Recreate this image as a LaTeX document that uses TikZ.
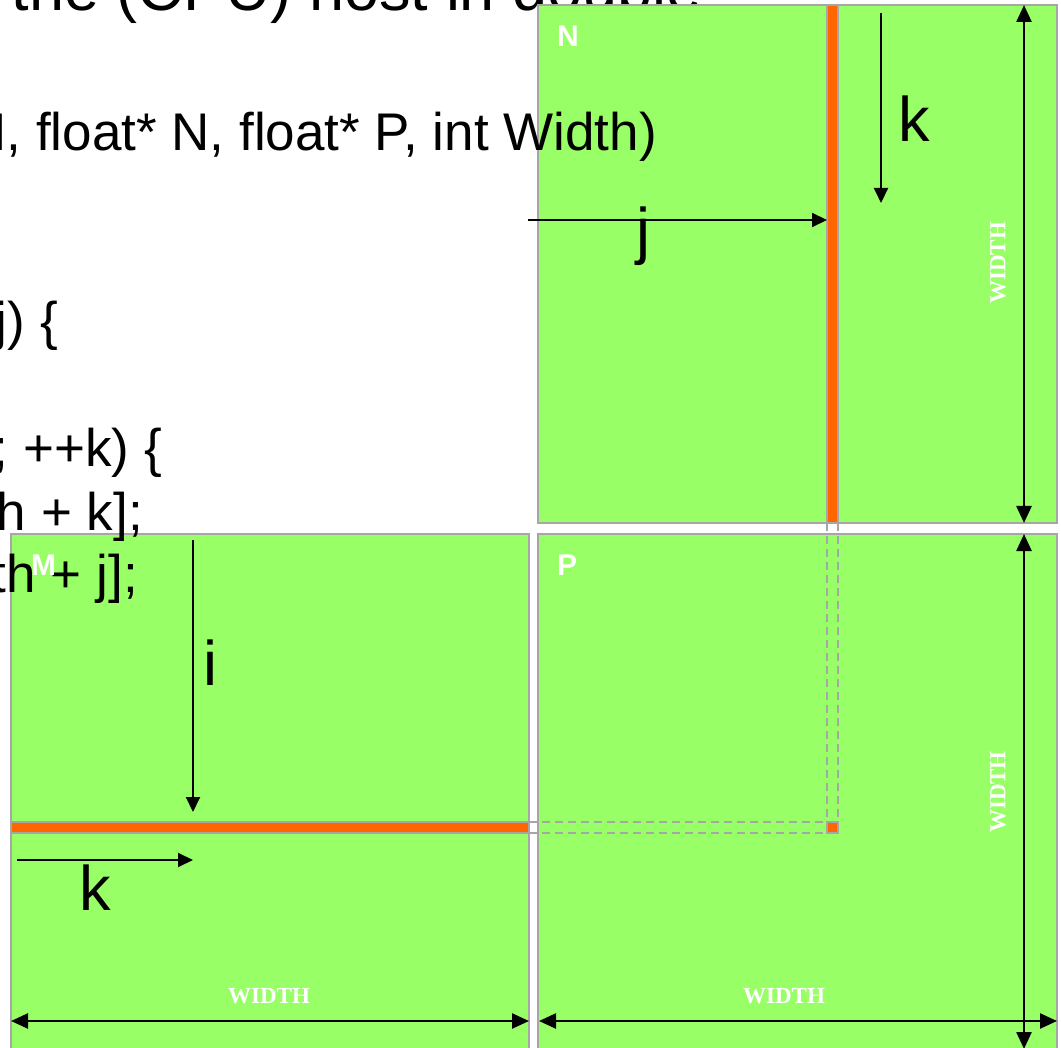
\documentclass[tikz,border=0pt]{standalone}
\usepackage{fontspec}
\setmainfont{Liberation Sans}
\newfontfamily\wserif{Liberation Serif}
\usetikzlibrary{arrows.meta}
\definecolor{mgreen}{HTML}{99FF66}
\definecolor{morange}{HTML}{FF6600}
\definecolor{bgray}{HTML}{A6A6A6}
\tikzset{
 mat/.style={draw=bgray, line width=2pt, fill=mgreen},
 strip/.style={draw=bgray, line width=1.5pt, fill=morange},
 guide/.style={draw=bgray, line width=1.5pt, dash pattern=on 8pt off 5pt},
 code/.style={font=\fontsize{53}{53}\selectfont, inner sep=0, anchor=base east},
 lbl/.style={font=\fontsize{63}{63}\selectfont, inner sep=0, anchor=base west},
 mname/.style={font=\bfseries\fontsize{30}{30}\selectfont, text=white, inner sep=0, anchor=base west},
 wlab/.style={font=\wserif\bfseries\fontsize{23}{23}\selectfont, text=white, inner sep=0},
 dimarrow/.style={line width=2.5pt, {Triangle[length=17pt,width=15pt]}-{Triangle[length=17pt,width=15pt]}},
 idxarrow/.style={line width=2pt, -{Triangle[length=15pt,width=14pt]}}
}
\begin{document}
\begin{tikzpicture}[x=1pt,y=-1pt]
\useasboundingbox (0,0) rectangle (1061,1048);
\clip (0,0) rectangle (1061,1048);
% top (partly hidden) code line
\node[font=\fontsize{63}{63}\selectfont, inner sep=0, anchor=base east] (title) at (702,11) {the (CPU) host in double};
% matrices
\draw[mat] (538,5) rectangle (1057,523);
\draw[mat] (11,534) rectangle (529,1070);
\draw[mat] (538,534) rectangle (1057,1070);
% strips
\draw[strip] (827,5) rectangle (838,523);
\draw[strip] (11,822) rectangle (529,833);
% guides
\coordinate (nsl) at (827,523); \coordinate (nsr) at (838,523);
\coordinate (msu) at (529,822); \coordinate (msd) at (529,833);
\coordinate (ptl) at (827,822); \coordinate (ptr) at (838,822);
\coordinate (pbl) at (827,833);
\draw[guide] (nsl) -- (ptl);
\draw[guide] (nsr) -- (ptr);
\draw[guide] (msu) -- (ptl);
\draw[guide] (msd) -- (pbl);
\draw[strip] (827,822) rectangle (838,833);
% code lines
\node[code] (c1) at (657,151) {M, float* N, float* P, int Width)};
\node[code] (c2) at (58,340) {j) \{};
\node[code] (c3) at (162,467) {; ++k) \{};
\node[code] (c4) at (143,530) {h + k];};
\node[code] (c5) at (138,592) {th + j];};
% names
\node[mname] (nN) at (557,47) {N};
\node[mname] (nM) at (31,575) {M};
\node[mname] (nP) at (557,575) {P};
% index arrows
\coordinate (nk0) at (881,13); \coordinate (nk1) at (881,203);
\coordinate (nj0) at (528,220); \coordinate (nj1) at (827,220);
\coordinate (mi0) at (193,540); \coordinate (mi1) at (193,812);
\coordinate (mk0) at (17,860); \coordinate (mk1) at (193,860);
\draw[idxarrow] (nk0) -- (nk1);
\draw[idxarrow] (nj0) -- (nj1);
\draw[idxarrow] (mi0) -- (mi1);
\draw[idxarrow] (mk0) -- (mk1);
\node[lbl] (lk1) at (898,142) {k};
\node[lbl] (lj) at (636,253) {j};
\node[lbl] (li) at (203,685) {i};
\node[lbl] (lk2) at (79,910) {k};
% dimension arrows
\coordinate (mw0) at (11,1021); \coordinate (mw1) at (529,1021);
\coordinate (pw0) at (539,1021); \coordinate (pw1) at (1057,1021);
\coordinate (nh0) at (1024,5); \coordinate (nh1) at (1024,523);
\coordinate (ph0) at (1024,534); \coordinate (ph1) at (1024,1049);
\draw[dimarrow] (mw0) -- (mw1);
\draw[dimarrow] (pw0) -- (pw1);
\draw[dimarrow] (nh0) -- (nh1);
\draw[dimarrow] (ph0) -- (ph1);
\node[wlab] (wm) at (269,996) {WIDTH};
\node[wlab] (wp) at (784,996) {WIDTH};
\node[wlab, rotate=90] (wn) at (998,263) {WIDTH};
\node[wlab, rotate=90] (wpv) at (998,792) {WIDTH};
\end{tikzpicture}
\end{document}
